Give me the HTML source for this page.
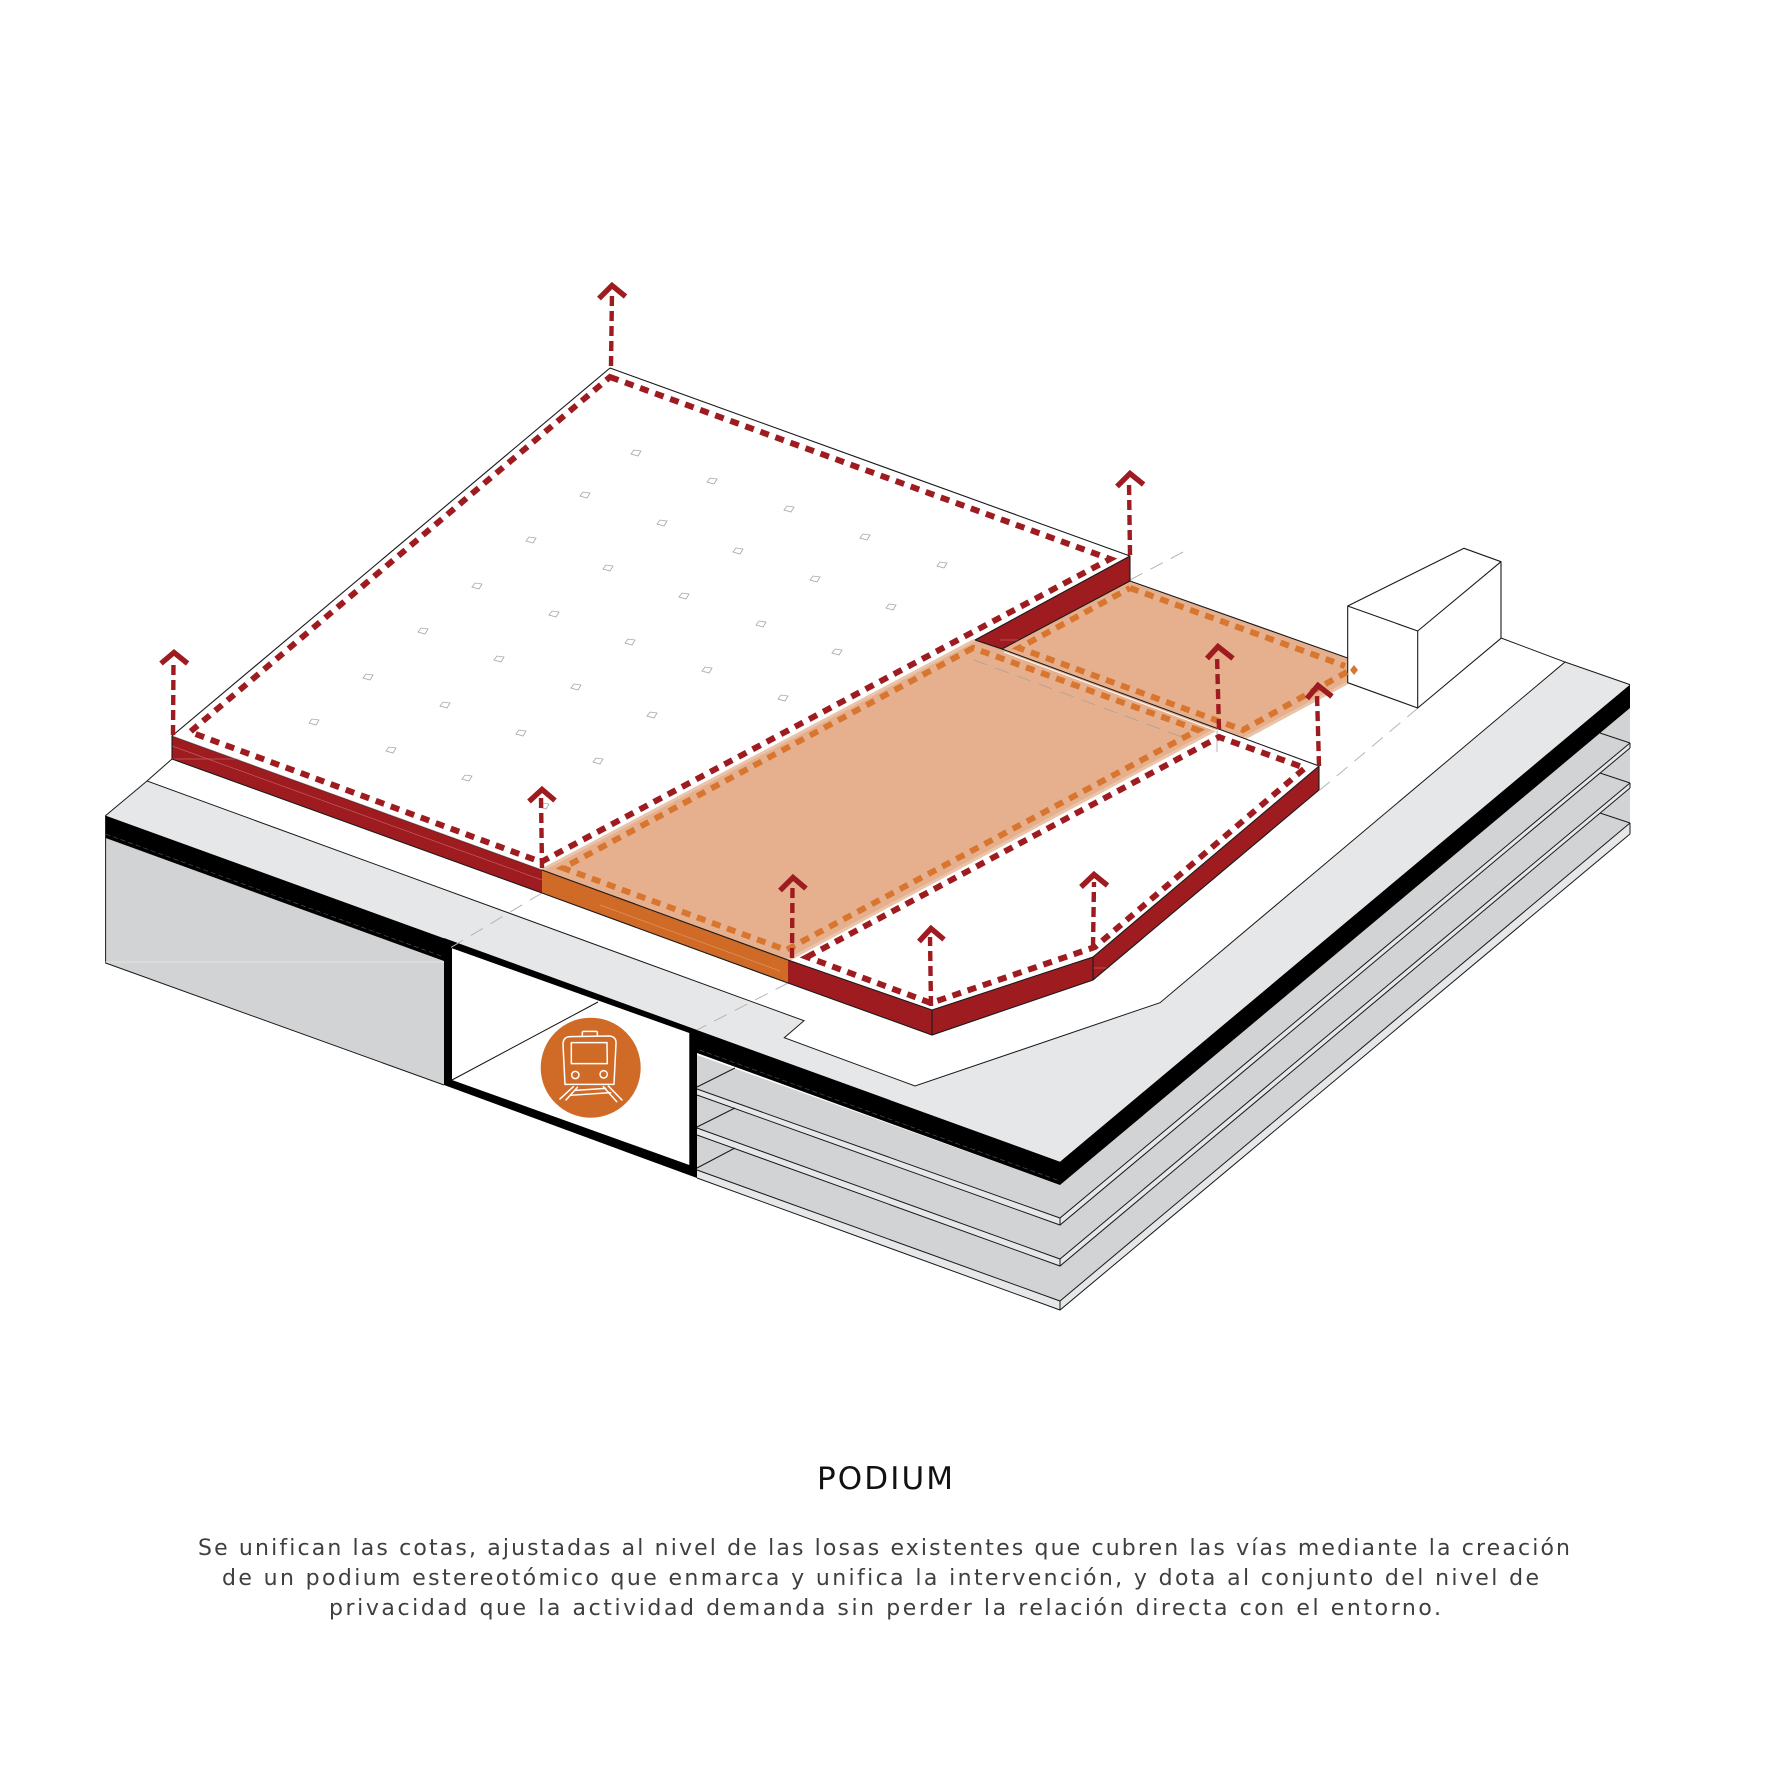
<!DOCTYPE html>
<html lang="es">
<head>
<meta charset="utf-8">
<title>Podium</title>
<style>
html,body{margin:0;padding:0;background:#fff;width:1772px;height:1773px;overflow:hidden}
svg{display:block}
text{font-family:"DejaVu Sans",sans-serif;fill:#3f3f3f;text-anchor:start}
</style>
</head>
<body>
<svg xmlns="http://www.w3.org/2000/svg" width="1772" height="1773" viewBox="0 0 1772 1773">
<defs>
<polygon id="s" points="-5,1 -2,-3 5,-2 2,3" fill="none" stroke="#a5a5a5" stroke-width=".8"/>
</defs>
<rect width="1772" height="1773" fill="#fff"/>

<!-- walls -->
<polygon points="105.6,838 444,960 444,1085 105.6,963" fill="#d1d3d4"/>
<polygon points="697,1055 1060,1185 1060,1310 697,1178" fill="#d1d3d4"/>
<polygon points="1060,1185 1630,708 1630,834 1060,1310" fill="#d1d3d4"/>
<path d="M105.6,838 V963 L444,1085" stroke="#1a1a1a" stroke-width="1" fill="none"/>
<path d="M105.6,962 H444" stroke="#e2e3e4" stroke-width="1" fill="none"/>
<polygon points="1060,1301 1630,823 1630,834 1060,1310" fill="#e6e7e8"/>
<polygon points="697,1170 1060,1301 1060,1310 697,1178" fill="#e6e7e8"/>
<polygon points="1060,1218 1630,743 1630,748 1060,1225" fill="#e6e7e8"/>
<polygon points="697,1089 1060,1218 1060,1225 697,1095" fill="#e6e7e8"/>
<polygon points="1060,1259 1630,783 1630,788 1060,1266" fill="#e6e7e8"/>
<polygon points="697,1128 1060,1259 1060,1266 697,1135" fill="#e6e7e8"/>
<g stroke="#1a1a1a" stroke-width="1" fill="none">
<path d="M697,1089 L1060,1218 L1630,743"/><path d="M697,1095 L1060,1225 L1630,748"/>
<path d="M697,1128 L1060,1259 L1630,783"/><path d="M697,1135 L1060,1266 L1630,788"/>
<path d="M697,1170 L1060,1301 L1630,823"/><path d="M697,1178 L1060,1310 L1630,834"/>
<path d="M1060,1218V1225M1060,1259V1266M1060,1301V1310M1630,743V748M1630,783V788M1630,823V834"/>
<path d="M1600,733 L1630,743M1600,773 L1630,783M1600,813 L1630,823"/>
<path d="M697,1087 L735,1068M697,1127 L735,1108M697,1168 L735,1148"/>
</g>

<!-- top slab -->
<polygon points="105.6,815.6 147,781 804,1020.7 784.3,1037.7 915,1086 1160,1002.7 1565,662 1630,684.6 1060,1161.7" fill="#e6e7e8"/>
<path d="M172,759 L147,781 L804,1020.7 L784.3,1037.7 L915,1086 L1160,1002.7 L1565,662 L1501,638M147,781 L105.6,815.6 V838" fill="none" stroke="#1a1a1a" stroke-width="1"/>
<path d="M1630,684.6 L1565,662" fill="none" stroke="#1a1a1a" stroke-width="1"/>
<polygon points="105.6,815.6 1060,1161.7 1630,684.6 1630,708 1060,1185 105.6,838" fill="#000"/>
<path d="M105.6,838 L1060,1185" stroke="#555" stroke-width=".6" stroke-dasharray="5 3" fill="none" transform="translate(0,-4)"/>

<!-- tunnel -->
<polygon points="444,938 697,1030 697,1178 444,1085" fill="#000"/>
<polygon points="452,948.3 689.3,1033 689.3,1165 452,1080" fill="#fff"/>
<path d="M452,1080 L598,1002" stroke="#111" stroke-width="1" fill="none"/>
<circle cx="590.7" cy="1067.7" r="50" fill="#cf6b27"/>
<g transform="translate(400,900) scale(.3333)" fill="none" stroke="#fff" stroke-width="4.5" stroke-linecap="round" stroke-linejoin="round">
<path d="M495,553 L489,432 Q490,410 512,410 L628,408 Q650,410 648,432 L642,553 Z"/>
<path d="M514,428 L621,428 L622,491 L514,491 Z"/>
<path d="M547,407 V398 Q547,394 552,394 L588,394 Q592,394 592,398 V407"/>
<circle cx="526" cy="525" r="11"/><circle cx="611" cy="523" r="11"/>
<path d="M520,560 L480,597M532,562 L498,600M625,558 L666,600M610,560 L650,605M525,571 L617,565M512,586 L632,578"/>
</g>

<!-- dashed guides -->
<g stroke="#b5b5b5" stroke-width="1" stroke-dasharray="14 9" fill="none">
<path d="M542,893 L450,948"/><path d="M788,983 L697,1030"/>
<path d="M1130,580 L1183,552"/><path d="M1418,708 L1320,790"/>
<path d="M1217,730 V752" stroke-dasharray="none"/>
</g>

<!-- orange floor -->
<polygon points="975,640 1002,649 1130,581 1347.7,658 1347.7,682.7 1245,738 1217,729 788,960 542,870" fill="#e6b08e"/>
<path d="M975,640 L542,870M1217,729 L788,960M1347.7,682.7 L1245,738" stroke="#eac4a8" stroke-width="3" fill="none"/>
<path d="M974,660 L1182,737" stroke="#b5a498" stroke-width="1" stroke-dasharray="14 9" fill="none"/>

<!-- sides -->
<polygon points="172,736 542,870 542,893 172,759" fill="#9e1b20"/>
<polygon points="542,870 788,960 788,983 542,893" fill="#cf6b27"/>
<polygon points="788,960 932,1010 932,1035 788,983" fill="#9e1b20"/>
<polygon points="932,1010 1093,957 1093,980 932,1035" fill="#9e1b20"/>
<polygon points="1093,957 1319,766 1319,790 1093,980" fill="#9e1b20"/>
<polygon points="1130,556 1130,581 1002,649 975,640" fill="#9e1b20"/>
<g stroke="#e8a0a0" stroke-width=".7" fill="none" opacity=".5">
<path d="M172,746 L542,880"/><path d="M172,759 H240"/>
<path d="M1000,640 H1130"/><path d="M1093,968 H1115"/>
</g>
<path d="M600,905 L780,971" stroke="#eda46c" stroke-width=".7" fill="none" opacity=".7"/>
<g stroke="#1a1a1a" stroke-width="1.1" fill="none">
<path d="M610,368 L1130,556 V581 L1347.7,658"/>
<path d="M610,368 L172,736 V759 L542,893 L788,983"/>
<path d="M1002,649 L1319,766 V790 L1093,980 L932,1035 L788,983"/>
<path d="M1093,957 V980M932,1010 V1035M932,1010 L1093,957 L1319,766M788,960 L932,1010"/>
<path d="M542,870 L788,960"/>
<path d="M975,640 L1130,556M975,640 L1002,649 L1130,581"/>
<path d="M172,736 L542,870" stroke-opacity=".45"/>
</g>
<path d="M1004,652 L1217,731" stroke="#fff" stroke-width="1" fill="none"/>

<!-- column grid -->
<g>
<use href="#s" x="636" y="453"/><use href="#s" x="712" y="481"/><use href="#s" x="789" y="509"/><use href="#s" x="865" y="537"/><use href="#s" x="942" y="565"/>
<use href="#s" x="585" y="495"/><use href="#s" x="662" y="523"/><use href="#s" x="738" y="551"/><use href="#s" x="815" y="579"/><use href="#s" x="891" y="607"/>
<use href="#s" x="531" y="540"/><use href="#s" x="608" y="568"/><use href="#s" x="684" y="596"/><use href="#s" x="761" y="624"/><use href="#s" x="837" y="652"/>
<use href="#s" x="477" y="586"/><use href="#s" x="554" y="614"/><use href="#s" x="630" y="642"/><use href="#s" x="707" y="670"/><use href="#s" x="783" y="698"/>
<use href="#s" x="423" y="631"/><use href="#s" x="499" y="659"/><use href="#s" x="576" y="687"/><use href="#s" x="652" y="715"/>
<use href="#s" x="368" y="677"/><use href="#s" x="445" y="705"/><use href="#s" x="521" y="733"/><use href="#s" x="598" y="761"/>
<use href="#s" x="314" y="722"/><use href="#s" x="391" y="750"/><use href="#s" x="467" y="778"/><use href="#s" x="544" y="806"/>
</g>

<!-- building -->
<g fill="#fff" stroke="#1a1a1a" stroke-width="1.1" stroke-linejoin="round">
<polygon points="1347.7,606 1464,548.3 1501,561.7 1501,638.3 1417.7,708 1347.7,682.7"/>
<path d="M1347.7,606 L1417.7,631 L1501,561.7M1417.7,631 V708" fill="none"/>
</g>

<!-- dashed outlines -->
<g fill="none" stroke-width="6" stroke-dasharray="9 7">
<path stroke="#d8762f" d="M973,648 L563,868 L786,950 L1198,730 Z"/>
<path stroke="#d8762f" d="M1130,588 L1345,666"/>
<path stroke="#d8762f" d="M1347,672 L1243,730 L1019,648 L1130,588"/>
<path stroke="#9e1b20" d="M610,377 L1110,559 L541,862 L190,732 Z"/>
<path stroke="#9e1b20" d="M807,957 L1219,737 L1305,768 L1095,947 L931,1003 Z"/>
</g>
<polygon points="1354,665 1358,670 1354,675 1350,670" fill="#d8762f"/>

<!-- arrows -->
<g fill="none" stroke="#9e1b20" stroke-width="4.4" stroke-dasharray="10 5">
<path d="M611,366 L612,292"/>
<path d="M173,735 L173.5,660"/>
<path d="M542,868 L541,797"/>
<path d="M792,958 L792.5,886"/>
<path d="M1130,555 L1129,482"/>
<path d="M1219,729 L1217,655"/>
<path d="M1319,766 L1317,694"/>
<path d="M931,1006 L930,937"/>
<path d="M1093,947 L1094,882"/>
</g>
<g fill="none" stroke="#9e1b20" stroke-width="5.4" stroke-linejoin="miter" transform="translate(0,1.5)">
<path d="M599,297 L612,284 L625.5,295"/>
<path d="M161,662 L174,651 L187.6,662"/>
<path d="M529,800 L542,788 L555,799"/>
<path d="M780,889 L793,876 L806,887"/>
<path d="M1117,485 L1130,472 L1143.6,483"/>
<path d="M1207,657 L1218,645 L1233,657"/>
<path d="M1307,697 L1318,684 L1332,695"/>
<path d="M919,940 L931,927 L944,938"/>
<path d="M1081,885.5 L1094,873 L1107.5,884"/>
</g>

<!-- text -->
<text x="817" y="1489" font-size="31" textLength="136" lengthAdjust="spacing" style="fill:#111">PODIUM</text>
<text x="198" y="1555" font-size="22" textLength="1372" lengthAdjust="spacing">Se unifican las cotas, ajustadas al nivel de las losas existentes que cubren las vías mediante la creación</text>
<text x="222" y="1585" font-size="22" textLength="1317" lengthAdjust="spacing">de un podium estereotómico que enmarca y unifica la intervención, y dota al conjunto del nivel de</text>
<text x="329" y="1615" font-size="22" textLength="1112" lengthAdjust="spacing">privacidad que la actividad demanda sin perder la relación directa con el entorno.</text>
</svg>
</body>
</html>
